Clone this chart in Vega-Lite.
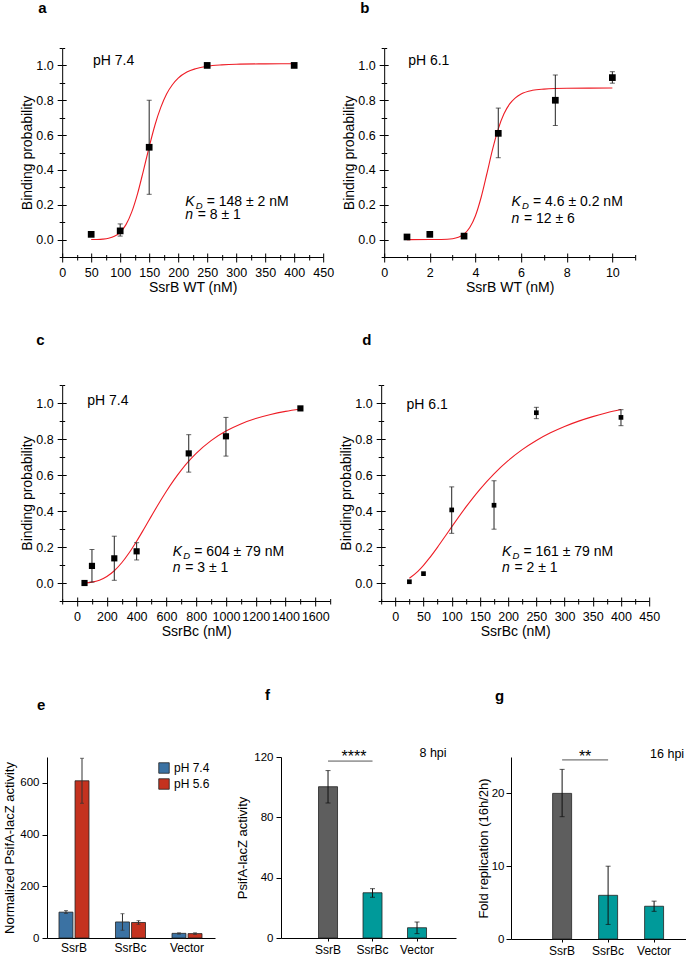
{
"$schema": "https://vega.github.io/schema/vega-lite/v6.json",
"padding": {"left": 3, "top": 1, "right": 1, "bottom": 1},
"config": {
  "font": "Liberation Sans",
  "view": {"stroke": null},
  "axis": {"grid": false, "domainColor": "#000", "tickColor": "#000", "labelColor": "#000", "titleColor": "#000", "labelFont": "Liberation Sans", "titleFont": "Liberation Sans", "labelFontSize": 12.5, "titleFontSize": 14, "titleFontWeight": "normal", "domainWidth": 1, "tickWidth": 1},
  "title": {"font": "Liberation Sans", "fontSize": 15, "fontWeight": "bold", "color": "#000", "anchor": "start", "frame": "group"},
  "text": {"font": "Liberation Sans", "color": "#000"},
  "legend": {"labelFont": "Liberation Sans", "labelColor": "#000"}
},
"datasets": {
  "curve": [
    {"p":"a","x":50,"y":0.0002},{"p":"a","x":60,"y":0.0007},{"p":"a","x":70,"y":0.0025},{"p":"a","x":80,"y":0.0073},{"p":"a","x":90,"y":0.0186},{"p":"a","x":100,"y":0.042},{"p":"a","x":110,"y":0.086},{"p":"a","x":120,"y":0.159},{"p":"a","x":130,"y":0.264},{"p":"a","x":140,"y":0.395},{"p":"a","x":150,"y":0.532},{"p":"a","x":160,"y":0.658},{"p":"a","x":170,"y":0.759},{"p":"a","x":180,"y":0.836},{"p":"a","x":190,"y":0.889},{"p":"a","x":200,"y":0.927},{"p":"a","x":215,"y":0.962},{"p":"a","x":230,"y":0.981},{"p":"a","x":250,"y":0.995},{"p":"a","x":275,"y":1.003},{"p":"a","x":300,"y":1.007},{"p":"a","x":350,"y":1.009},{"p":"a","x":400,"y":1.01},
    {"p":"b","x":1,"y":0},{"p":"b","x":2,"y":0.0001},{"p":"b","x":2.5,"y":0.0006},{"p":"b","x":3,"y":0.0051},{"p":"b","x":3.25,"y":0.0133},{"p":"b","x":3.5,"y":0.0316},{"p":"b","x":3.75,"y":0.069},{"p":"b","x":4,"y":0.137},{"p":"b","x":4.25,"y":0.243},{"p":"b","x":4.5,"y":0.378},{"p":"b","x":4.75,"y":0.518},{"p":"b","x":5,"y":0.636},{"p":"b","x":5.25,"y":0.722},{"p":"b","x":5.5,"y":0.779},{"p":"b","x":5.75,"y":0.814},{"p":"b","x":6,"y":0.836},{"p":"b","x":6.5,"y":0.857},{"p":"b","x":7,"y":0.864},{"p":"b","x":8,"y":0.869},{"p":"b","x":9,"y":0.8697},{"p":"b","x":10,"y":0.87},
    {"p":"c","x":50,"y":0.0006},{"p":"c","x":100,"y":0.0047},{"p":"c","x":150,"y":0.0155},{"p":"c","x":200,"y":0.0361},{"p":"c","x":250,"y":0.0682},{"p":"c","x":300,"y":0.1124},{"p":"c","x":350,"y":0.1678},{"p":"c","x":400,"y":0.2318},{"p":"c","x":450,"y":0.3013},{"p":"c","x":500,"y":0.3728},{"p":"c","x":550,"y":0.4431},{"p":"c","x":600,"y":0.5099},{"p":"c","x":650,"y":0.5715},{"p":"c","x":700,"y":0.6271},{"p":"c","x":750,"y":0.6766},{"p":"c","x":800,"y":0.7201},{"p":"c","x":900,"y":0.7909},{"p":"c","x":1000,"y":0.844},{"p":"c","x":1100,"y":0.8837},{"p":"c","x":1200,"y":0.9135},{"p":"c","x":1300,"y":0.9361},{"p":"c","x":1400,"y":0.9534},{"p":"c","x":1500,"y":0.9669},
    {"p":"d","x":25,"y":0.0264},{"p":"d","x":40,"y":0.0651},{"p":"d","x":50,"y":0.0985},{"p":"d","x":60,"y":0.1366},{"p":"d","x":75,"y":0.1997},{"p":"d","x":90,"y":0.2667},{"p":"d","x":100,"y":0.3118},{"p":"d","x":125,"y":0.4212},{"p":"d","x":150,"y":0.5204},{"p":"d","x":175,"y":0.6066},{"p":"d","x":200,"y":0.6796},{"p":"d","x":225,"y":0.7407},{"p":"d","x":250,"y":0.7917},{"p":"d","x":275,"y":0.8341},{"p":"d","x":300,"y":0.8696},{"p":"d","x":325,"y":0.8993},{"p":"d","x":350,"y":0.9244},{"p":"d","x":375,"y":0.9457},{"p":"d","x":400,"y":0.9638}
  ],
  "pts": [
    {"p":"a","x":50,"y":0.03},{"p":"a","x":100,"y":0.05,"lo":0.02,"hi":0.09},{"p":"a","x":150,"y":0.53,"lo":0.26,"hi":0.8},{"p":"a","x":250,"y":1.0},{"p":"a","x":400,"y":1.0},
    {"p":"b","x":1,"y":0.015},{"p":"b","x":2,"y":0.03},{"p":"b","x":3.5,"y":0.02},{"p":"b","x":5,"y":0.61,"lo":0.47,"hi":0.755},{"p":"b","x":7.5,"y":0.8,"lo":0.655,"hi":0.945},{"p":"b","x":10,"y":0.93,"lo":0.898,"hi":0.964},
    {"p":"c","x":50,"y":0.0},{"p":"c","x":100,"y":0.095,"lo":0.005,"hi":0.186},{"p":"c","x":250,"y":0.137,"lo":0.015,"hi":0.26},{"p":"c","x":400,"y":0.176,"lo":0.128,"hi":0.224},{"p":"c","x":750,"y":0.72,"lo":0.616,"hi":0.824},{"p":"c","x":1000,"y":0.815,"lo":0.705,"hi":0.92},{"p":"c","x":1500,"y":0.97},
    {"p":"d","x":25,"y":0.007},{"p":"d","x":50,"y":0.052},{"p":"d","x":100,"y":0.406,"lo":0.276,"hi":0.534},{"p":"d","x":175,"y":0.432,"lo":0.299,"hi":0.568},{"p":"d","x":250,"y":0.946,"lo":0.913,"hi":0.976},{"p":"d","x":400,"y":0.92,"lo":0.874,"hi":0.963}
  ],
  "ann": [
    {"p":"a","k":"ph","x":53,"y":1.023,"t":"pH 7.4"},{"p":"a","k":"kd","x":212,"y":0.213,"t":"= 148 ± 2 nM"},{"p":"a","k":"n","x":212,"y":0.144,"t":"= 8 ± 1"},
    {"p":"b","k":"ph","x":1.05,"y":1.023,"t":"pH 6.1"},{"p":"b","k":"kd","x":5.58,"y":0.213,"t":"= 4.6 ± 0.2 nM"},{"p":"b","k":"n","x":5.58,"y":0.12,"t":"= 12 ± 6"},
    {"p":"c","k":"ph","x":68,"y":1.013,"t":"pH 7.4"},{"p":"c","k":"kd","x":643,"y":0.174,"t":"= 604 ± 79 nM"},{"p":"c","k":"n","x":643,"y":0.085,"t":"= 3 ± 1"},
    {"p":"d","k":"ph","x":20,"y":0.99,"t":"pH 6.1"},{"p":"d","k":"kd","x":189,"y":0.174,"t":"= 161 ± 79 nM"},{"p":"d","k":"n","x":189,"y":0.085,"t":"= 2 ± 1"}
  ],
  "e": [
    {"g":"SsrB","ph":"pH 7.4","v":100,"lo":95,"hi":106},{"g":"SsrB","ph":"pH 5.6","v":608,"lo":521,"hi":695},
    {"g":"SsrBc","ph":"pH 7.4","v":62,"lo":30,"hi":94},{"g":"SsrBc","ph":"pH 5.6","v":60,"lo":53,"hi":67},
    {"g":"Vector","ph":"pH 7.4","v":18,"lo":15,"hi":20},{"g":"Vector","ph":"pH 5.6","v":17,"lo":14,"hi":20}
  ],
  "f": [
    {"g":"SsrB","v":100.3,"lo":89.5,"hi":111},{"g":"SsrBc","v":30,"lo":27,"hi":32.7},{"g":"Vector","v":6.8,"lo":2.9,"hi":10.6}
  ],
  "g": [
    {"g":"SsrB","v":20,"lo":16.8,"hi":23.3},{"g":"SsrBc","v":6,"lo":2,"hi":10},{"g":"Vector","v":4.5,"lo":3.8,"hi":5.2}
  ],
  "sig": [
    {"p":"f","a":"SsrB","b":"SsrBc","c":"Vector","y":117.3,"ys":116.7,"yl":120,"s":"****","l":"8 hpi"},
    {"p":"g","a":"SsrB","b":"SsrBc","c":"Vector","y":24.6,"ys":24.3,"yl":24.9,"s":"**","l":"16 hpi"}
  ]
},
"resolve": {"scale": {"color": "independent"}, "legend": {"color": "independent"}},
"center": true,
"spacing": 49,
"vconcat": [
 {"spacing": 38, "vconcat": [
  {"spacing": 8, "hconcat": [
   {"width": 261, "height": 209,
    "title": {"text": "a", "dx": -24, "offset": 26},
    "resolve": {"axis": {"x": "independent", "y": "independent"}},
    "layer": [
     {"encoding": {
       "x": {"field": "x", "type": "quantitative", "scale": {"domain": [0, 450], "nice": false, "zero": false},
         "axis": {"title": "SsrB WT (nM)", "values": [0,25,50,75,100,125,150,175,200,225,250,275,300,325,350,375,400,425,450], "labelExpr": "datum.value % 50 == 0 ? datum.label : ''", "tickSize": {"condition": {"test": "datum.value % 50 == 0", "value": 5}, "value": 3}, "labelFlush": false, "labelOverlap": false, "labelPadding": 4, "titlePadding": 2}},
       "y": {"field": "y", "type": "quantitative", "scale": {"domain": [-0.1, 1.1], "nice": false, "zero": false},
         "axis": {"title": "Binding probability", "values": [-0.1,0,0.1,0.2,0.3,0.4,0.5,0.6,0.7,0.8,0.9,1,1.1], "format": ".1f", "labelExpr": "abs(round(datum.value*10)) % 2 == 0 ? datum.label : ''", "tickSize": {"condition": {"test": "abs(round(datum.value*10)) % 2 == 0", "value": 5}, "value": 3}, "labelOverlap": false, "labelPadding": 4, "titlePadding": 1}}
      },
      "layer": [
       {"data": {"name": "curve"}, "transform": [{"filter": "datum.p == 'a'"}], "mark": {"type": "line", "color": "#ee1c25", "strokeWidth": 1.1, "interpolate": "monotone"}, "encoding": {}},
       {"data": {"name": "pts"}, "transform": [{"filter": "datum.p == 'a' && isValid(datum.lo)"}], "mark": {"type": "rule", "color": "#222"}, "encoding": {"y": {"field": "lo", "type": "quantitative"}, "y2": {"field": "hi"}}},
       {"data": {"name": "pts"}, "transform": [{"filter": "datum.p == 'a' && isValid(datum.lo)"}], "mark": {"type": "tick", "orient": "horizontal", "size": 5, "thickness": 1, "color": "#222"}, "encoding": {"y": {"field": "lo", "type": "quantitative"}}},
       {"data": {"name": "pts"}, "transform": [{"filter": "datum.p == 'a' && isValid(datum.lo)"}], "mark": {"type": "tick", "orient": "horizontal", "size": 5, "thickness": 1, "color": "#222"}, "encoding": {"y": {"field": "hi", "type": "quantitative"}}},
       {"data": {"name": "pts"}, "transform": [{"filter": "datum.p == 'a'"}], "mark": {"type": "square", "color": "#000", "opacity": 1, "size": 45, "filled": true}},
       {"data": {"name": "ann"}, "transform": [{"filter": "datum.p == 'a' && datum.k == 'ph'"}], "mark": {"type": "text", "align": "left", "baseline": "middle", "fontSize": 14}, "encoding": {"text": {"field": "t"}}},
       {"data": {"name": "ann"}, "transform": [{"filter": "datum.p == 'a' && datum.k == 'kd'"}], "mark": {"type": "text", "align": "left", "baseline": "middle", "fontSize": 14, "fontStyle": "italic", "text": "K"}},
       {"data": {"name": "ann"}, "transform": [{"filter": "datum.p == 'a' && datum.k == 'kd'"}], "mark": {"type": "text", "align": "left", "baseline": "middle", "fontSize": 9.5, "fontStyle": "italic", "text": "D", "dx": 10.5, "dy": 4}},
       {"data": {"name": "ann"}, "transform": [{"filter": "datum.p == 'a' && datum.k == 'kd'"}], "mark": {"type": "text", "align": "left", "baseline": "middle", "fontSize": 14, "dx": 21.5}, "encoding": {"text": {"field": "t"}}},
       {"data": {"name": "ann"}, "transform": [{"filter": "datum.p == 'a' && datum.k == 'n'"}], "mark": {"type": "text", "align": "left", "baseline": "middle", "fontSize": 14, "fontStyle": "italic", "text": "n"}},
       {"data": {"name": "ann"}, "transform": [{"filter": "datum.p == 'a' && datum.k == 'n'"}], "mark": {"type": "text", "align": "left", "baseline": "middle", "fontSize": 14, "dx": 12.5}, "encoding": {"text": {"field": "t"}}}
      ]
     },
     {"data": {"name": "pts"}, "transform": [{"filter": "datum.p == 'a'"}], "mark": {"type": "point", "opacity": 0},
      "encoding": {
       "x": {"field": "x", "type": "quantitative", "axis": {"orient": "bottom", "title": null, "labels": false, "domain": false, "values": [0,25,50,75,100,125,150,175,200,225,250,275,300,325,350,375,400,425,450], "tickSize": {"condition": {"test": "datum.value % 50 == 0", "value": -4}, "value": -2.5}}},
       "y": {"field": "y", "type": "quantitative", "axis": {"orient": "left", "title": null, "labels": false, "domain": false, "values": [-0.1,0,0.1,0.2,0.3,0.4,0.5,0.6,0.7,0.8,0.9,1,1.1], "tickSize": {"condition": {"test": "abs(round(datum.value*10)) % 2 == 0", "value": -4}, "value": -2.5}}}
      }}
    ]
   },
   {"width": 251, "height": 209,
    "title": {"text": "b", "dx": -24, "offset": 26},
    "resolve": {"axis": {"x": "independent", "y": "independent"}},
    "layer": [
     {"encoding": {
       "x": {"field": "x", "type": "quantitative", "scale": {"domain": [0, 11], "nice": false, "zero": false},
         "axis": {"title": "SsrB WT (nM)", "values": [0,1,2,3,4,5,6,7,8,9,10,11], "labelExpr": "datum.value % 2 == 0 ? datum.label : ''", "tickSize": {"condition": {"test": "datum.value % 2 == 0", "value": 5}, "value": 3}, "labelFlush": false, "labelOverlap": false, "labelPadding": 4, "titlePadding": 2}},
       "y": {"field": "y", "type": "quantitative", "scale": {"domain": [-0.1, 1.1], "nice": false, "zero": false},
         "axis": {"title": "Binding probability", "values": [-0.1,0,0.1,0.2,0.3,0.4,0.5,0.6,0.7,0.8,0.9,1,1.1], "format": ".1f", "labelExpr": "abs(round(datum.value*10)) % 2 == 0 ? datum.label : ''", "tickSize": {"condition": {"test": "abs(round(datum.value*10)) % 2 == 0", "value": 5}, "value": 3}, "labelOverlap": false, "labelPadding": 4, "titlePadding": 1}}
      },
      "layer": [
       {"data": {"name": "curve"}, "transform": [{"filter": "datum.p == 'b'"}], "mark": {"type": "line", "color": "#ee1c25", "strokeWidth": 1.1, "interpolate": "monotone"}, "encoding": {}},
       {"data": {"name": "pts"}, "transform": [{"filter": "datum.p == 'b' && isValid(datum.lo)"}], "mark": {"type": "rule", "color": "#222"}, "encoding": {"y": {"field": "lo", "type": "quantitative"}, "y2": {"field": "hi"}}},
       {"data": {"name": "pts"}, "transform": [{"filter": "datum.p == 'b' && isValid(datum.lo)"}], "mark": {"type": "tick", "orient": "horizontal", "size": 5, "thickness": 1, "color": "#222"}, "encoding": {"y": {"field": "lo", "type": "quantitative"}}},
       {"data": {"name": "pts"}, "transform": [{"filter": "datum.p == 'b' && isValid(datum.lo)"}], "mark": {"type": "tick", "orient": "horizontal", "size": 5, "thickness": 1, "color": "#222"}, "encoding": {"y": {"field": "hi", "type": "quantitative"}}},
       {"data": {"name": "pts"}, "transform": [{"filter": "datum.p == 'b'"}], "mark": {"type": "square", "color": "#000", "opacity": 1, "size": 45, "filled": true}},
       {"data": {"name": "ann"}, "transform": [{"filter": "datum.p == 'b' && datum.k == 'ph'"}], "mark": {"type": "text", "align": "left", "baseline": "middle", "fontSize": 14}, "encoding": {"text": {"field": "t"}}},
       {"data": {"name": "ann"}, "transform": [{"filter": "datum.p == 'b' && datum.k == 'kd'"}], "mark": {"type": "text", "align": "left", "baseline": "middle", "fontSize": 14, "fontStyle": "italic", "text": "K"}},
       {"data": {"name": "ann"}, "transform": [{"filter": "datum.p == 'b' && datum.k == 'kd'"}], "mark": {"type": "text", "align": "left", "baseline": "middle", "fontSize": 9.5, "fontStyle": "italic", "text": "D", "dx": 10.5, "dy": 4}},
       {"data": {"name": "ann"}, "transform": [{"filter": "datum.p == 'b' && datum.k == 'kd'"}], "mark": {"type": "text", "align": "left", "baseline": "middle", "fontSize": 14, "dx": 21.5}, "encoding": {"text": {"field": "t"}}},
       {"data": {"name": "ann"}, "transform": [{"filter": "datum.p == 'b' && datum.k == 'n'"}], "mark": {"type": "text", "align": "left", "baseline": "middle", "fontSize": 14, "fontStyle": "italic", "text": "n"}},
       {"data": {"name": "ann"}, "transform": [{"filter": "datum.p == 'b' && datum.k == 'n'"}], "mark": {"type": "text", "align": "left", "baseline": "middle", "fontSize": 14, "dx": 12.5}, "encoding": {"text": {"field": "t"}}}
      ]
     },
     {"data": {"name": "pts"}, "transform": [{"filter": "datum.p == 'b'"}], "mark": {"type": "point", "opacity": 0},
      "encoding": {
       "x": {"field": "x", "type": "quantitative", "axis": {"orient": "bottom", "title": null, "labels": false, "domain": false, "values": [0,1,2,3,4,5,6,7,8,9,10,11], "tickSize": {"condition": {"test": "datum.value % 2 == 0", "value": -4}, "value": -2.5}}},
       "y": {"field": "y", "type": "quantitative", "axis": {"orient": "left", "title": null, "labels": false, "domain": false, "values": [-0.1,0,0.1,0.2,0.3,0.4,0.5,0.6,0.7,0.8,0.9,1,1.1], "tickSize": {"condition": {"test": "abs(round(datum.value*10)) % 2 == 0", "value": -4}, "value": -2.5}}}
      }}
    ]
   }
  ]},
  {"spacing": 8, "hconcat": [
   {"width": 268, "height": 216,
    "title": {"text": "c", "dx": -26, "offset": 31},
    "resolve": {"axis": {"x": "independent", "y": "independent"}},
    "layer": [
     {"encoding": {
       "x": {"field": "x", "type": "quantitative", "scale": {"domain": [-100, 1700], "nice": false, "zero": false},
         "axis": {"title": "SsrBc (nM)", "values": [-100,0,100,200,300,400,500,600,700,800,900,1000,1100,1200,1300,1400,1500,1600,1700], "labelExpr": "datum.value % 200 == 0 ? datum.label : ''", "format": "d", "tickSize": {"condition": {"test": "datum.value % 200 == 0", "value": 5}, "value": 3}, "labelFlush": false, "labelOverlap": false, "labelPadding": 4, "titlePadding": 2}},
       "y": {"field": "y", "type": "quantitative", "scale": {"domain": [-0.1, 1.1], "nice": false, "zero": false},
         "axis": {"title": "Binding probability", "values": [-0.1,0,0.1,0.2,0.3,0.4,0.5,0.6,0.7,0.8,0.9,1,1.1], "format": ".1f", "labelExpr": "abs(round(datum.value*10)) % 2 == 0 ? datum.label : ''", "tickSize": {"condition": {"test": "abs(round(datum.value*10)) % 2 == 0", "value": 5}, "value": 3}, "labelOverlap": false, "labelPadding": 4, "titlePadding": 1}}
      },
      "layer": [
       {"data": {"name": "curve"}, "transform": [{"filter": "datum.p == 'c'"}], "mark": {"type": "line", "color": "#ee1c25", "strokeWidth": 1.1, "interpolate": "monotone"}, "encoding": {}},
       {"data": {"name": "pts"}, "transform": [{"filter": "datum.p == 'c' && isValid(datum.lo)"}], "mark": {"type": "rule", "color": "#222"}, "encoding": {"y": {"field": "lo", "type": "quantitative"}, "y2": {"field": "hi"}}},
       {"data": {"name": "pts"}, "transform": [{"filter": "datum.p == 'c' && isValid(datum.lo)"}], "mark": {"type": "tick", "orient": "horizontal", "size": 5, "thickness": 1, "color": "#222"}, "encoding": {"y": {"field": "lo", "type": "quantitative"}}},
       {"data": {"name": "pts"}, "transform": [{"filter": "datum.p == 'c' && isValid(datum.lo)"}], "mark": {"type": "tick", "orient": "horizontal", "size": 5, "thickness": 1, "color": "#222"}, "encoding": {"y": {"field": "hi", "type": "quantitative"}}},
       {"data": {"name": "pts"}, "transform": [{"filter": "datum.p == 'c'"}], "mark": {"type": "square", "color": "#000", "opacity": 1, "size": 38, "filled": true}},
       {"data": {"name": "ann"}, "transform": [{"filter": "datum.p == 'c' && datum.k == 'ph'"}], "mark": {"type": "text", "align": "left", "baseline": "middle", "fontSize": 14}, "encoding": {"text": {"field": "t"}}},
       {"data": {"name": "ann"}, "transform": [{"filter": "datum.p == 'c' && datum.k == 'kd'"}], "mark": {"type": "text", "align": "left", "baseline": "middle", "fontSize": 14, "fontStyle": "italic", "text": "K"}},
       {"data": {"name": "ann"}, "transform": [{"filter": "datum.p == 'c' && datum.k == 'kd'"}], "mark": {"type": "text", "align": "left", "baseline": "middle", "fontSize": 9.5, "fontStyle": "italic", "text": "D", "dx": 10.5, "dy": 4}},
       {"data": {"name": "ann"}, "transform": [{"filter": "datum.p == 'c' && datum.k == 'kd'"}], "mark": {"type": "text", "align": "left", "baseline": "middle", "fontSize": 14, "dx": 21.5}, "encoding": {"text": {"field": "t"}}},
       {"data": {"name": "ann"}, "transform": [{"filter": "datum.p == 'c' && datum.k == 'n'"}], "mark": {"type": "text", "align": "left", "baseline": "middle", "fontSize": 14, "fontStyle": "italic", "text": "n"}},
       {"data": {"name": "ann"}, "transform": [{"filter": "datum.p == 'c' && datum.k == 'n'"}], "mark": {"type": "text", "align": "left", "baseline": "middle", "fontSize": 14, "dx": 12.5}, "encoding": {"text": {"field": "t"}}}
      ]
     },
     {"data": {"name": "pts"}, "transform": [{"filter": "datum.p == 'c'"}], "mark": {"type": "point", "opacity": 0},
      "encoding": {
       "x": {"field": "x", "type": "quantitative", "axis": {"orient": "bottom", "title": null, "labels": false, "domain": false, "values": [-100,0,100,200,300,400,500,600,700,800,900,1000,1100,1200,1300,1400,1500,1600,1700], "tickSize": {"condition": {"test": "datum.value % 200 == 0", "value": -4}, "value": -2.5}}},
       "y": {"field": "y", "type": "quantitative", "axis": {"orient": "left", "title": null, "labels": false, "domain": false, "values": [-0.1,0,0.1,0.2,0.3,0.4,0.5,0.6,0.7,0.8,0.9,1,1.1], "tickSize": {"condition": {"test": "abs(round(datum.value*10)) % 2 == 0", "value": -4}, "value": -2.5}}}
      }}
    ]
   },
   {"width": 268, "height": 216,
    "title": {"text": "d", "dx": -19, "offset": 31},
    "resolve": {"axis": {"x": "independent", "y": "independent"}},
    "layer": [
     {"encoding": {
       "x": {"field": "x", "type": "quantitative", "scale": {"domain": [-25, 450], "nice": false, "zero": false},
         "axis": {"title": "SsrBc (nM)", "values": [-25,0,25,50,75,100,125,150,175,200,225,250,275,300,325,350,375,400,425,450], "labelExpr": "datum.value % 50 == 0 ? datum.label : ''", "tickSize": {"condition": {"test": "datum.value % 50 == 0", "value": 5}, "value": 3}, "labelFlush": false, "labelOverlap": false, "labelPadding": 4, "titlePadding": 2}},
       "y": {"field": "y", "type": "quantitative", "scale": {"domain": [-0.1, 1.1], "nice": false, "zero": false},
         "axis": {"title": "Binding probability", "values": [-0.1,0,0.1,0.2,0.3,0.4,0.5,0.6,0.7,0.8,0.9,1,1.1], "format": ".1f", "labelExpr": "abs(round(datum.value*10)) % 2 == 0 ? datum.label : ''", "tickSize": {"condition": {"test": "abs(round(datum.value*10)) % 2 == 0", "value": 5}, "value": 3}, "labelOverlap": false, "labelPadding": 4, "titlePadding": 1}}
      },
      "layer": [
       {"data": {"name": "curve"}, "transform": [{"filter": "datum.p == 'd'"}], "mark": {"type": "line", "color": "#ee1c25", "strokeWidth": 1.1, "interpolate": "monotone"}, "encoding": {}},
       {"data": {"name": "pts"}, "transform": [{"filter": "datum.p == 'd' && isValid(datum.lo)"}], "mark": {"type": "rule", "color": "#222"}, "encoding": {"y": {"field": "lo", "type": "quantitative"}, "y2": {"field": "hi"}}},
       {"data": {"name": "pts"}, "transform": [{"filter": "datum.p == 'd' && isValid(datum.lo)"}], "mark": {"type": "tick", "orient": "horizontal", "size": 5, "thickness": 1, "color": "#222"}, "encoding": {"y": {"field": "lo", "type": "quantitative"}}},
       {"data": {"name": "pts"}, "transform": [{"filter": "datum.p == 'd' && isValid(datum.lo)"}], "mark": {"type": "tick", "orient": "horizontal", "size": 5, "thickness": 1, "color": "#222"}, "encoding": {"y": {"field": "hi", "type": "quantitative"}}},
       {"data": {"name": "pts"}, "transform": [{"filter": "datum.p == 'd'"}], "mark": {"type": "square", "color": "#000", "opacity": 1, "size": 22, "filled": true}},
       {"data": {"name": "ann"}, "transform": [{"filter": "datum.p == 'd' && datum.k == 'ph'"}], "mark": {"type": "text", "align": "left", "baseline": "middle", "fontSize": 14}, "encoding": {"text": {"field": "t"}}},
       {"data": {"name": "ann"}, "transform": [{"filter": "datum.p == 'd' && datum.k == 'ph'"}], "mark": {"type": "text", "align": "left", "baseline": "middle", "fontSize": 14, "opacity": 0, "dx": 224}, "encoding": {"text": {"field": "t"}}},
       {"data": {"name": "ann"}, "transform": [{"filter": "datum.p == 'd' && datum.k == 'kd'"}], "mark": {"type": "text", "align": "left", "baseline": "middle", "fontSize": 14, "fontStyle": "italic", "text": "K"}},
       {"data": {"name": "ann"}, "transform": [{"filter": "datum.p == 'd' && datum.k == 'kd'"}], "mark": {"type": "text", "align": "left", "baseline": "middle", "fontSize": 9.5, "fontStyle": "italic", "text": "D", "dx": 10.5, "dy": 4}},
       {"data": {"name": "ann"}, "transform": [{"filter": "datum.p == 'd' && datum.k == 'kd'"}], "mark": {"type": "text", "align": "left", "baseline": "middle", "fontSize": 14, "dx": 21.5}, "encoding": {"text": {"field": "t"}}},
       {"data": {"name": "ann"}, "transform": [{"filter": "datum.p == 'd' && datum.k == 'n'"}], "mark": {"type": "text", "align": "left", "baseline": "middle", "fontSize": 14, "fontStyle": "italic", "text": "n"}},
       {"data": {"name": "ann"}, "transform": [{"filter": "datum.p == 'd' && datum.k == 'n'"}], "mark": {"type": "text", "align": "left", "baseline": "middle", "fontSize": 14, "dx": 12.5}, "encoding": {"text": {"field": "t"}}}
      ]
     },
     {"data": {"name": "pts"}, "transform": [{"filter": "datum.p == 'd'"}], "mark": {"type": "point", "opacity": 0},
      "encoding": {
       "x": {"field": "x", "type": "quantitative", "axis": {"orient": "bottom", "title": null, "labels": false, "domain": false, "values": [-25,0,25,50,75,100,125,150,175,200,225,250,275,300,325,350,375,400,425,450], "tickSize": {"condition": {"test": "datum.value % 50 == 0", "value": -4}, "value": -2.5}}},
       "y": {"field": "y", "type": "quantitative", "axis": {"orient": "left", "title": null, "labels": false, "domain": false, "values": [-0.1,0,0.1,0.2,0.3,0.4,0.5,0.6,0.7,0.8,0.9,1,1.1], "tickSize": {"condition": {"test": "abs(round(datum.value*10)) % 2 == 0", "value": -4}, "value": -2.5}}}
      }}
    ]
   }
  ]}
 ]},
 {"spacing": 21,
  "resolve": {"scale": {"color": "independent"}, "legend": {"color": "independent"}},
  "hconcat": [
   {"width": 168, "height": 181,
    "title": {"text": "e", "dx": -10, "offset": 44},
    "data": {"name": "e"},
    "encoding": {
      "x": {"field": "g", "type": "nominal", "sort": ["SsrB", "SsrBc", "Vector"], "scale": {"paddingInner": 0.469, "paddingOuter": 0.221, "align": 0.48}, "axis": {"title": null, "labelAngle": 0, "ticks": false, "labelPadding": 4, "labelFontSize": 12}},
      "xOffset": {"field": "ph", "type": "nominal", "sort": ["pH 7.4", "pH 5.6"], "scale": {"paddingInner": 0.13}}
    },
    "layer": [
      {"mark": {"type": "bar", "stroke": "#222", "strokeWidth": 0.8},
       "encoding": {
         "y": {"field": "v", "type": "quantitative", "scale": {"domain": [0, 700], "nice": false}, "axis": {"title": "Normalized PsifA-lacZ activity", "values": [0,100,200,300,400,500,600,700], "tickSize": 5, "labelPadding": 3, "labelFontSize": 11.5, "titleFontSize": 13, "titlePadding": 3}},
         "color": {"field": "ph", "type": "nominal", "sort": ["pH 7.4", "pH 5.6"], "scale": {"domain": ["pH 7.4", "pH 5.6"], "range": ["#3b72a3", "#c4321f"]},
           "legend": {"title": null, "orient": "top-right", "offset": 5, "labelFontSize": 12, "symbolType": "square", "symbolSize": 110, "symbolStrokeColor": "#222", "symbolStrokeWidth": 0.8, "rowPadding": 2}}
       }},
      {"mark": {"type": "rule", "color": "#333"}, "encoding": {"y": {"field": "lo", "type": "quantitative"}, "y2": {"field": "hi"}}},
      {"mark": {"type": "tick", "orient": "horizontal", "size": 4, "thickness": 1, "color": "#333"}, "encoding": {"y": {"field": "lo", "type": "quantitative"}}},
      {"mark": {"type": "tick", "orient": "horizontal", "size": 4, "thickness": 1, "color": "#333"}, "encoding": {"y": {"field": "hi", "type": "quantitative"}}}
    ]
   },
   {"width": 175, "height": 181,
    "title": {"text": "f", "dx": -16, "offset": 44},
    "encoding": {
      "x": {"field": "g", "type": "nominal", "sort": ["SsrB", "SsrBc", "Vector"], "scale": {"domain": ["SsrB", "SsrBc", "Vector"], "paddingInner": 0.573, "paddingOuter": 0.753, "align": 0.56}, "axis": {"title": null, "labelAngle": 0, "tickSize": 3, "labelPadding": 3, "labelFontSize": 12}}
    },
    "layer": [
      {"data": {"name": "f"}, "mark": {"type": "bar", "stroke": "#222", "strokeWidth": 0.8},
       "encoding": {
         "y": {"field": "v", "type": "quantitative", "scale": {"domain": [0, 120], "nice": false}, "axis": {"title": "PsifA-lacZ activity", "values": [0,10,20,30,40,50,60,70,80,90,100,110,120], "labelExpr": "datum.value % 20 == 0 ? datum.label : ''", "tickSize": {"condition": {"test": "datum.value % 20 == 0", "value": 5}, "value": 3}, "labelPadding": 3, "labelFontSize": 11.5, "titleFontSize": 13, "titlePadding": 4}},
         "color": {"field": "g", "type": "nominal", "scale": {"domain": ["SsrB", "SsrBc", "Vector"], "range": ["#5e5e5e", "#009a9a", "#009a9a"]}, "legend": null}
       }},
      {"data": {"name": "f"}, "mark": {"type": "rule", "color": "#111"}, "encoding": {"y": {"field": "lo", "type": "quantitative"}, "y2": {"field": "hi"}}},
      {"data": {"name": "f"}, "mark": {"type": "tick", "orient": "horizontal", "size": 5, "thickness": 1, "color": "#111"}, "encoding": {"y": {"field": "lo", "type": "quantitative"}}},
      {"data": {"name": "f"}, "mark": {"type": "tick", "orient": "horizontal", "size": 5, "thickness": 1, "color": "#111"}, "encoding": {"y": {"field": "hi", "type": "quantitative"}}},
      {"data": {"name": "sig"}, "transform": [{"filter": "datum.p == 'f'"}], "mark": {"type": "rule", "color": "#555", "strokeWidth": 1}, "encoding": {"x": {"field": "a", "type": "nominal"}, "x2": {"field": "b"}, "y": {"field": "y", "type": "quantitative"}}},
      {"data": {"name": "sig"}, "transform": [{"filter": "datum.p == 'f'"}], "mark": {"type": "text", "fontSize": 16, "align": "center", "baseline": "alphabetic", "dx": 26}, "encoding": {"x": {"field": "a", "type": "nominal"}, "y": {"field": "ys", "type": "quantitative"}, "text": {"field": "s"}}},
      {"data": {"name": "sig"}, "transform": [{"filter": "datum.p == 'f'"}], "mark": {"type": "text", "fontSize": 12.5, "align": "center", "baseline": "alphabetic", "dx": 16}, "encoding": {"x": {"field": "c", "type": "nominal"}, "y": {"field": "yl", "type": "quantitative"}, "text": {"field": "l"}}}
    ]
   },
   {"width": 176, "height": 182,
    "title": {"text": "g", "dx": -16, "offset": 44},
    "encoding": {
      "x": {"field": "g", "type": "nominal", "sort": ["SsrB", "SsrBc", "Vector"], "scale": {"domain": ["SsrB", "SsrBc", "Vector"], "paddingInner": 0.587, "paddingOuter": 0.707, "align": 0.64}, "axis": {"title": null, "labelAngle": 0, "tickSize": 3, "labelPadding": 3, "labelFontSize": 12}}
    },
    "layer": [
      {"data": {"name": "g"}, "mark": {"type": "bar", "stroke": "#222", "strokeWidth": 0.8},
       "encoding": {
         "y": {"field": "v", "type": "quantitative", "scale": {"domain": [0, 25], "nice": false}, "axis": {"title": "Fold replication (16h/2h)", "values": [0,2.5,5,7.5,10,12.5,15,17.5,20,22.5,25], "labelExpr": "datum.value % 5 == 0 ? datum.label : ''", "tickSize": {"condition": {"test": "datum.value % 5 == 0", "value": 5}, "value": 3}, "labelPadding": 2, "labelFontSize": 11.5, "titleFontSize": 13, "titlePadding": 1}},
         "color": {"field": "g", "type": "nominal", "scale": {"domain": ["SsrB", "SsrBc", "Vector"], "range": ["#5e5e5e", "#009a9a", "#009a9a"]}, "legend": null}
       }},
      {"data": {"name": "g"}, "mark": {"type": "rule", "color": "#111"}, "encoding": {"y": {"field": "lo", "type": "quantitative"}, "y2": {"field": "hi"}}},
      {"data": {"name": "g"}, "mark": {"type": "tick", "orient": "horizontal", "size": 5, "thickness": 1, "color": "#111"}, "encoding": {"y": {"field": "lo", "type": "quantitative"}}},
      {"data": {"name": "g"}, "mark": {"type": "tick", "orient": "horizontal", "size": 5, "thickness": 1, "color": "#111"}, "encoding": {"y": {"field": "hi", "type": "quantitative"}}},
      {"data": {"name": "sig"}, "transform": [{"filter": "datum.p == 'g'"}], "mark": {"type": "rule", "color": "#555", "strokeWidth": 1}, "encoding": {"x": {"field": "a", "type": "nominal"}, "x2": {"field": "b"}, "y": {"field": "y", "type": "quantitative"}}},
      {"data": {"name": "sig"}, "transform": [{"filter": "datum.p == 'g'"}], "mark": {"type": "text", "fontSize": 16, "align": "center", "baseline": "alphabetic", "dx": 23}, "encoding": {"x": {"field": "a", "type": "nominal"}, "y": {"field": "ys", "type": "quantitative"}, "text": {"field": "s"}}},
      {"data": {"name": "sig"}, "transform": [{"filter": "datum.p == 'g'"}], "mark": {"type": "text", "fontSize": 12.5, "align": "center", "baseline": "alphabetic", "dx": 13}, "encoding": {"x": {"field": "c", "type": "nominal"}, "y": {"field": "yl", "type": "quantitative"}, "text": {"field": "l"}}}
    ]
   }
 ]}
]
}
